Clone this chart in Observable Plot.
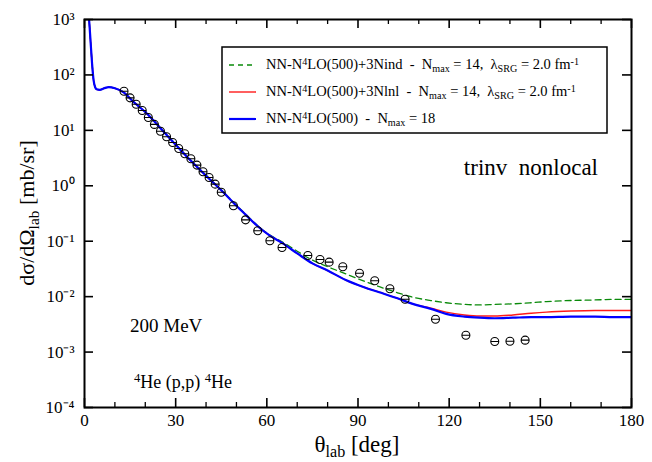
<!DOCTYPE html>
<html><head><meta charset="utf-8">
<script src="https://cdn.jsdelivr.net/npm/d3@7"></script>
<script src="https://cdn.jsdelivr.net/npm/@observablehq/plot@0.6"></script>
<style>body{margin:0;background:#fff}</style>
</head><body><div id="chart"></div>
<script>
// measured points
const dataTheta = [13,15,17,19,21,23,25,27,29,31,33,35,37,39,41,43,45,49,53,57,61,65,73.5,77.5,80.5,85,90.5,95.5,100.5,105.5,115.5,125.5,135,140,145]
const dataSigma = [50.9,38.6,29.6,22.8,17.1,12.8,9.66,7.66,6.04,4.71,3.78,3.07,2.36,1.79,1.41,1.07,0.766,0.436,0.243,0.154,0.102,0.0771,0.0552,0.0468,0.0419,0.0346,0.0265,0.0193,0.0139,0.0090,0.00392,0.00201,0.00155,0.00157,0.00164]
// calculations, log10 of dσ/dΩ
const curveTheta = [0.8,1.5,2,2.5,3,3.5,4,5,6.5,8,10,13,16,20,25,30,35,40,45,50,53,57,61,65,70,75,80,86,92,97,103,108,114,119,125,130,135,141,147,152,160,168,174,180]
const blueLog = [3.3,3.0,2.6,2.2,1.9,1.78,1.74,1.73,1.76,1.78,1.76,1.68,1.52,1.33,1.04,0.74,0.45,0.18,-0.08,-0.36,-0.52,-0.73,-0.90,-1.03,-1.22,-1.40,-1.53,-1.70,-1.83,-1.92,-2.03,-2.13,-2.22,-2.31,-2.36,-2.38,-2.39,-2.38,-2.37,-2.37,-2.36,-2.36,-2.37,-2.37]
const redLog = [3.3,3.0,2.6,2.2,1.9,1.78,1.74,1.73,1.76,1.78,1.76,1.68,1.52,1.33,1.04,0.74,0.45,0.18,-0.08,-0.36,-0.52,-0.73,-0.90,-1.03,-1.22,-1.40,-1.53,-1.70,-1.83,-1.92,-2.03,-2.13,-2.21,-2.28,-2.33,-2.35,-2.35,-2.33,-2.30,-2.28,-2.26,-2.25,-2.25,-2.25]
const greenLog = [3.3,3.0,2.6,2.2,1.9,1.78,1.74,1.73,1.76,1.78,1.76,1.68,1.52,1.33,1.04,0.75,0.46,0.19,-0.07,-0.35,-0.51,-0.72,-0.89,-1.01,-1.18,-1.34,-1.46,-1.59,-1.72,-1.82,-1.93,-2.01,-2.07,-2.11,-2.14,-2.15,-2.14,-2.13,-2.11,-2.09,-2.07,-2.06,-2.05,-2.05]
const yTicks = [1e-4,1e-3,1e-2,1e-1,1,10,100,1000]
const xTicks = [0,30,60,90,120,150,180]
const xMinor = [10,20,40,50,70,80,100,110,130,140,160,170]

const sup = {'-':'⁻','0':'⁰','1':'¹','2':'²','3':'³','4':'⁴'}
const fmtY = d => '10' + String(Math.round(Math.log10(d))).split('').map(c => sup[c]).join('')

const mk = arr => curveTheta.map((t, i) => ({t, v: 10 ** arr[i]}))
const points = dataTheta.map((t, i) => ({t, v: dataSigma[i]}))

const thetaSym = {draw(ctx, size) {
  const r = Math.sqrt(size / Math.PI)
  ctx.moveTo(r, 0); ctx.arc(0, 0, r, 0, 2 * Math.PI)
  ctx.moveTo(-r, 0); ctx.lineTo(r, 0)
}}

// inward ticks: length in data units (~9 px major, ~5 px minor)
const px = 180 / 547, dec = 7 / 388
const yLo = 1e-4, yHi = 1e3
const tickRows = (list, len) => list.flatMap(x => [
  {x, y1: yLo, y2: yLo * 10 ** (len * dec)}, {x, y1: yHi, y2: yHi / 10 ** (len * dec)}])
const xMaj = tickRows(xTicks, 9), xMin = tickRows(xMinor, 5)
const yMaj = yTicks.flatMap(y => [{y, x1: 0, x2: 9 * px}, {y, x1: 180, x2: 180 - 9 * px}])

const font = '"Liberation Serif", "Times New Roman", serif'
let chart = Plot.plot({
  width: 652, height: 462,
  marginLeft: 84, marginRight: 21, marginTop: 19, marginBottom: 55,
  style: {fontFamily: font, fontSize: '17px'},
  x: {domain: [0, 180], axis: null},
  y: {type: 'log', domain: [yLo, yHi], axis: null},
  marks: [
    Plot.axisX({ticks: xTicks, tickSize: 0, tickPadding: 6, label: null, fontSize: 17, fontFamily: font}),
    Plot.axisY({ticks: yTicks, tickSize: 0, tickPadding: 10, tickFormat: fmtY, label: null, fontSize: 17, fontFamily: font}),
    Plot.line(mk(greenLog), {x: 't', y: 'v', stroke: '#0a8a0a', strokeWidth: 1.3, strokeDasharray: '6,4', curve: 'monotone-x', clip: true}),
    Plot.line(mk(redLog), {x: 't', y: 'v', stroke: '#ff1a1a', strokeWidth: 1.4, curve: 'monotone-x', clip: true}),
    Plot.line(mk(blueLog), {x: 't', y: 'v', stroke: '#0000ff', strokeWidth: 2.2, curve: 'monotone-x', clip: true}),
    Plot.dot(points, {x: 't', y: 'v', symbol: thetaSym, r: 4, stroke: 'black', strokeWidth: 1.1, fill: 'none'}),
    Plot.ruleX(xMaj, {x: 'x', y1: 'y1', y2: 'y2', stroke: 'black', strokeWidth: 1.6}),
    Plot.ruleX(xMin, {x: 'x', y1: 'y1', y2: 'y2', stroke: 'black', strokeWidth: 1.3}),
    Plot.ruleY(yMaj, {y: 'y', x1: 'x1', x2: 'x2', stroke: 'black', strokeWidth: 1.6}),
    Plot.frame({stroke: 'black', strokeWidth: 2})
  ]
})
const svg = d3.select(chart)
svg.selectAll('text').attr('font-family', font).attr('fill', 'black')

function txt(x, y, parts, size, anchor = 'start', rot = 0) {
  const t = svg.append('text').attr('x', x).attr('y', y).attr('font-size', size)
    .attr('font-family', font).attr('text-anchor', anchor)
  if (rot) t.attr('transform', `rotate(${rot},${x},${y})`)
  parts.forEach(([s, k]) => {
    const ts = t.append('tspan').text(s)
    if (k === 'sub') ts.attr('baseline-shift', '-30%').attr('font-size', size * 0.7)
    if (k === 'sup') ts.attr('baseline-shift', '45%').attr('font-size', size * 0.7)
  })
  return t
}
txt(357, 452, [['θ'], ['lab', 'sub'], [' [deg]']], 23, 'middle')
txt(34, 213, [['dσ/dΩ'], ['lab', 'sub'], [' [mb/sr]']], 22, 'middle', -90)
txt(598, 175, [['trinv  nonlocal']], 23, 'end')
txt(130, 332, [['200 MeV']], 19)
txt(134, 388, [['4', 'sup'], ['He (p,p) '], ['4', 'sup'], ['He']], 18)

// legend
svg.append('rect').attr('x', 222).attr('y', 47).attr('width', 385).attr('height', 86)
  .attr('fill', '#fff').attr('stroke', '#000').attr('stroke-width', 1.5)
const leg = [
  ['#0a8a0a', '5,4', 1.3, [['NN-N'], ['4', 'sup'], ['LO(500)+3Nind  -  N'], ['max', 'sub'], [' = 14,  λ'], ['SRG', 'sub'], [' = 2.0 fm'], ['-1', 'sup']]],
  ['#ff1a1a', null, 1.4, [['NN-N'], ['4', 'sup'], ['LO(500)+3Nlnl  -  N'], ['max', 'sub'], [' = 14,  λ'], ['SRG', 'sub'], [' = 2.0 fm'], ['-1', 'sup']]],
  ['#0000ff', null, 2.2, [['NN-N'], ['4', 'sup'], ['LO(500)  -  N'], ['max', 'sub'], [' = 18']]]
]
leg.forEach(([c, dash, w, parts], i) => {
  const y = 65 + i * 27
  const l = svg.append('line').attr('x1', 229).attr('x2', 256).attr('y1', y).attr('y2', y)
    .attr('stroke', c).attr('stroke-width', w)
  if (dash) l.attr('stroke-dasharray', dash)
  txt(266, y + 4, parts, 14.5)
})
d3.select('#chart').append(() => chart)
</script></body></html>
